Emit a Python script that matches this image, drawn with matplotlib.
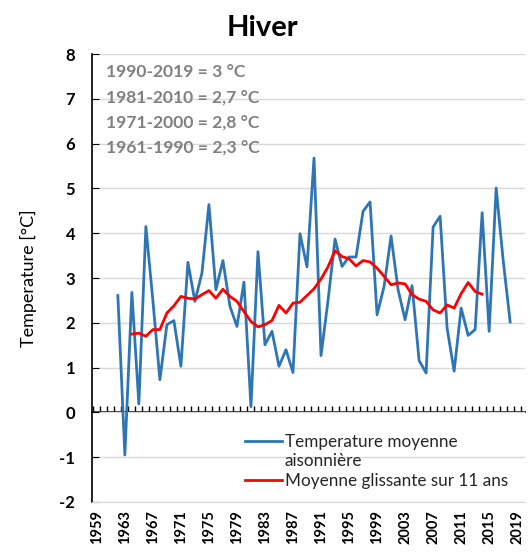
import matplotlib.pyplot as plt
from matplotlib.lines import Line2D
import numpy as np

plt.rcParams['font.family'] = ['Lato', 'DejaVu Sans']
plt.rcParams['axes.unicode_minus'] = False

# winter mean temperature, one value per year
years = list(range(1962, 2019))
temp = [2.61, -0.95, 2.68, 0.19, 4.15, 2.5, 0.73, 1.96, 2.05, 1.03,
        3.35, 2.48, 3.11, 4.64, 2.74, 3.39, 2.37, 1.92, 2.91, 0.13,
        3.59, 1.51, 1.81, 1.03, 1.40, 0.89, 3.99, 3.25, 5.68, 1.27,
        2.5, 3.87, 3.26, 3.47, 3.47, 4.49, 4.70, 2.18, 2.81, 3.94,
        2.74, 2.07, 2.83, 1.16, 0.88, 4.14, 4.38, 1.88, 0.92, 2.33,
        1.72, 1.85, 4.46, 1.81, 5.01, 3.4, 2.02]

# 11 year moving average
ma_years = list(range(1964, 2015))
ma = [1.75, 1.77, 1.70, 1.85, 1.85, 2.22, 2.38, 2.59,
      2.55, 2.53, 2.63, 2.72, 2.55, 2.75, 2.59, 2.48, 2.25, 2.03, 1.91, 1.96,
      2.05, 2.39, 2.22, 2.44, 2.46, 2.61, 2.76, 2.98, 3.25, 3.61, 3.48, 3.43,
      3.27, 3.39, 3.36, 3.22, 3.04, 2.85, 2.89, 2.87, 2.63, 2.53, 2.48, 2.29,
      2.22, 2.40, 2.33, 2.65, 2.90, 2.70, 2.64]

normals = ["1990-2019 = 3 °C", "1981-2010 = 2,7 °C",
           "1971-2000 = 2,8 °C", "1961-1990 = 2,3 °C"]
tick_years = list(range(1959, 2020, 4))

fig = plt.figure(figsize=(5.31, 5.55), dpi=100)
ax = fig.add_axes([0.173, 0.0955, 0.816, 0.807])

blue, = ax.plot(years, temp, color='#2E75B6', lw=2.0)
red, = ax.plot(ma_years, ma, color='#FF0000', lw=2.0)

ax.set_xlim(1958.29, 2020.14)
ax.set_ylim(-2, 8)
ax.set_yticks(range(-2, 9))
ax.grid(axis='y', color='#d9d9d9', lw=1)
ax.set_axisbelow(True)

ax.set_xticks(tick_years)
ax.set_xticklabels([str(y) for y in tick_years], rotation=90,
                   fontweight='bold', fontsize=10.5)
ax.tick_params(axis='x', length=0, pad=6)
ax.tick_params(axis='y', direction='in', length=5, labelsize=12, pad=12)
for lab in ax.get_yticklabels():
    lab.set_fontweight('bold')

ax.spines['top'].set_visible(False)
ax.spines['right'].set_visible(False)
ax.spines['bottom'].set_color('#d9d9d9')
ax.spines['left'].set_linewidth(1.2)

# x axis line crossing at zero
zero = ax.secondary_xaxis(0.2)
zero.set_xticks(np.arange(1958.5, 2020.6, 1))
zero.tick_params(direction='in', length=4, labelbottom=False, width=1)
zero.spines['bottom'].set_linewidth(1.2)

ax.set_ylabel("Temperature [°C]", fontsize=13, labelpad=16)

for i, txt in enumerate(normals):
    ax.text(0.032, 0.960 - i * 0.056, txt, transform=ax.transAxes,
            color='#808080', fontweight='bold', fontsize=12.6, va='center')

blank = Line2D([], [], color='none')
ax.legend([blue, blank, red],
          ["Temperature moyenne", "aisonnière", "Moyenne glissante sur 11 ans"],
          loc='lower left', bbox_to_anchor=(0.353, 0.03), frameon=False,
          fontsize=12.3, handlelength=2.2, handletextpad=0.15,
          labelspacing=0.2, borderpad=0, borderaxespad=0,
          labelcolor='#262626')

fig.text(0.495, 0.95, "Hiver", fontsize=21, fontweight='bold',
         ha='center', va='center')

fig.savefig('out.png', dpi=100)
